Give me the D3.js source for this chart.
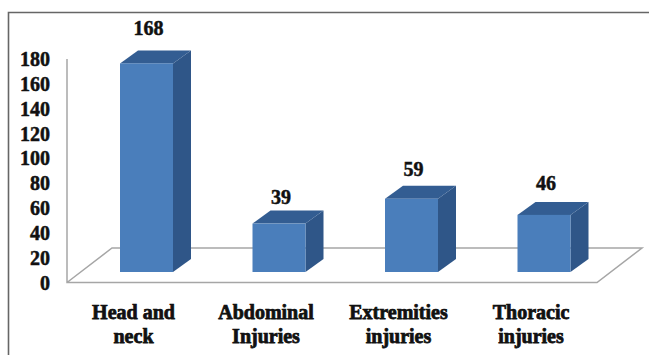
<!DOCTYPE html>
<html>
<head>
<meta charset="utf-8">
<script src="https://cdn.jsdelivr.net/npm/d3@7"></script>
<style>
html,body{margin:0;padding:0;background:#fff;}
svg{display:block;}
text{font-family:"Liberation Serif",serif;font-weight:bold;fill:#111;stroke:#111;stroke-width:0.5px;}
.category{stroke-width:0.75px;}
</style>
</head>
<body>
<svg id="chart" width="649" height="355"></svg>
<script>
const categories = [["Head and","neck"],["Abdominal","Injuries"],["Extremities","injuries"],["Thoracic","injuries"]];
const values = [168, 39, 59, 46];
const tickValues = [0,20,40,60,80,100,120,140,160,180];

const svg = d3.select("#chart");
const depth = {x:18, y:-13};
const base = 272;
const y = d3.scaleLinear().domain([0,180]).range([282.5,59]);
const barHeight = v => y(0) - y(v);
const x = d3.scaleBand().domain(d3.range(4)).range([67,623.5]).paddingInner(0.6).paddingOuter(0.4);
const w = x.bandwidth();
// hand-placed gap between each column top and its value label
const labelLift = [28,20,23,25];

// chart frame
svg.append("path").attr("d","M8.5,355V12.5H649")
  .attr("fill","none").attr("stroke","#666").attr("stroke-width",1.6);

// floor and value axis
svg.append("path").attr("d",`M67,${y(180)}V${y(0)}H597L642,248H112L67,${y(0)}`)
  .attr("fill","none").attr("stroke","#a6a6a6").attr("stroke-width",1.5);

svg.append("g").selectAll("text").data(tickValues).join("text")
  .attr("x",50).attr("y",d=>y(d)+7).attr("text-anchor","end")
  .attr("font-size",20).text(d=>d);

// 3D columns: side face, top face, then front face
const bars = svg.append("g").selectAll("g").data(values).join("g");
bars.append("path").attr("fill","#2f5688").attr("d",(d,i)=>{
  const r=x(i)+w, t=base-barHeight(d);
  return `M${r},${t}l${depth.x},${depth.y}V${base+depth.y}L${r},${base}Z`;
});
bars.append("path").attr("fill","#335d92").attr("d",(d,i)=>{
  const l=x(i), r=l+w, t=base-barHeight(d);
  return `M${l},${t}l${depth.x},${depth.y}H${r+depth.x}L${r},${t}Z`;
});
bars.append("rect").attr("fill","#4a7ebb")
  .attr("x",(d,i)=>x(i)).attr("width",w)
  .attr("y",d=>base-barHeight(d)).attr("height",d=>barHeight(d));

// value labels
bars.append("text").attr("x",(d,i)=>x(i)+28.5).attr("y",(d,i)=>base-barHeight(d)-labelLift[i])
  .attr("text-anchor","middle").attr("font-size",20).text(d=>d);

// category labels
const cats = svg.append("g").selectAll("text").data(categories).join("text")
  .attr("class","category").attr("text-anchor","middle").attr("font-size",20);
cats.selectAll("tspan").data((d,i)=>d.map(s=>({s,i}))).join("tspan")
  .attr("x",d=>x(d.i)+13.5)
  .attr("y",(d,j)=>[319,343][j]).text(d=>d.s);
</script>
</body>
</html>
